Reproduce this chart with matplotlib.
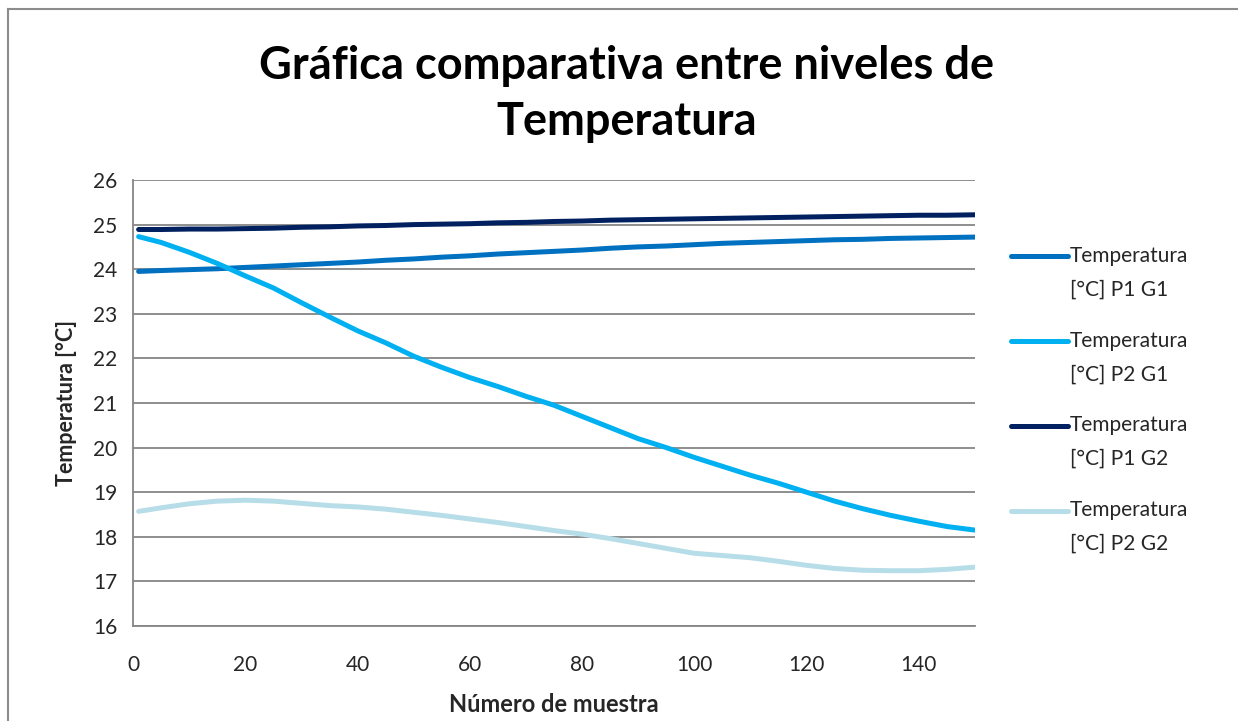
import matplotlib
matplotlib.use('Agg')
import matplotlib.pyplot as plt
from matplotlib.lines import Line2D
from matplotlib.legend_handler import HandlerLine2D

plt.rcParams['font.family'] = ['Lato', 'DejaVu Sans']

# muestras (cada 5)
x = [1, 5, 10, 15, 20, 25, 30, 35, 40, 45, 50, 55, 60, 65, 70, 75,
     80, 85, 90, 95, 100, 105, 110, 115, 120, 125, 130, 135, 140, 145, 150]

p1g1 = [23.95, 23.97, 23.99, 24.01, 24.04, 24.07, 24.10, 24.13, 24.16, 24.20,
        24.23, 24.27, 24.30, 24.34, 24.37, 24.40, 24.43, 24.47, 24.50, 24.52,
        24.55, 24.58, 24.60, 24.62, 24.64, 24.66, 24.67, 24.69, 24.70, 24.71, 24.72]
p2g1 = [24.73, 24.60, 24.38, 24.13, 23.85, 23.58, 23.25, 22.93, 22.62, 22.35,
        22.05, 21.80, 21.57, 21.37, 21.15, 20.95, 20.70, 20.45, 20.20, 20.00,
        19.78, 19.58, 19.38, 19.20, 19.00, 18.80, 18.63, 18.48, 18.35, 18.23, 18.15]
p1g2 = [24.89, 24.89, 24.90, 24.90, 24.91, 24.92, 24.94, 24.95, 24.97, 24.98,
        25.00, 25.01, 25.02, 25.04, 25.05, 25.07, 25.08, 25.10, 25.11, 25.12,
        25.13, 25.14, 25.15, 25.16, 25.17, 25.18, 25.19, 25.20, 25.21, 25.21, 25.22]
p2g2 = [18.57, 18.65, 18.74, 18.80, 18.82, 18.80, 18.75, 18.70, 18.67, 18.62,
        18.55, 18.48, 18.40, 18.32, 18.23, 18.14, 18.06, 17.96, 17.85, 17.74,
        17.63, 17.58, 17.53, 17.45, 17.36, 17.29, 17.25, 17.24, 17.24, 17.27, 17.32]

series = [p1g1, p2g1, p1g2, p2g2]
labels = ['Temperatura\n[°C] P1 G1', 'Temperatura\n[°C] P2 G1',
          'Temperatura\n[°C] P1 G2', 'Temperatura\n[°C] P2 G2']
colors = ['#0070C0', '#00B0F0', '#002060', '#B7DEE8']

txt = '#262626'
grid_c = '#868686'


class TopHandler(HandlerLine2D):
    # put the legend line next to the first text line
    def create_artists(self, legend, orig_handle, xdescent, ydescent,
                       width, height, fontsize, trans):
        return super().create_artists(legend, orig_handle, xdescent,
                                      ydescent - 2 * 0.82 * fontsize,
                                      width, height, fontsize, trans)


fig = plt.figure(figsize=(12.38, 7.21), dpi=100)
ax = fig.add_axes([133/1238, 1 - 626/721, (975-133)/1238, (626-180)/721])

for k in range(len(series)):
    ax.plot(x, series[k], color=colors[k], lw=3.6, label=labels[k],
            solid_capstyle='round')

ax.set_xlim(0, 150)
ax.set_ylim(16, 26)
ax.set_xticks(range(0, 141, 20))
ax.set_yticks(range(16, 27))
ax.grid(True, axis='y', color=grid_c, lw=1.3)
ax.set_axisbelow(True)
ax.tick_params(length=0, labelsize=15, colors=txt)
ax.tick_params(axis='y', pad=11)
ax.tick_params(axis='x', pad=21)
for s in ['top', 'right']:
    ax.spines[s].set_visible(False)
for s in ['left', 'bottom']:
    ax.spines[s].set_color(grid_c)
    ax.spines[s].set_linewidth(1.3)

ax.set_xlabel('Número de muestra', fontsize=17, fontweight='bold', color=txt,
              labelpad=13)
ax.set_ylabel('Temperatura [°C]', fontsize=15.5, fontweight='bold', color=txt,
              labelpad=12)

fig.suptitle('Gráfica comparativa entre niveles de\nTemperatura', x=0.506,
             y=0.937, fontsize=32.5, fontweight='bold', color='black',
             linespacing=1.4)

handles, labs = ax.get_legend_handles_labels()
leg = fig.legend(handles, labs, loc='upper left',
                 bbox_to_anchor=(992/1238, 1 - 227/721), frameon=False,
                 fontsize=15, labelcolor=txt, handlelength=2.75,
                 handletextpad=0.1, labelspacing=1.5,
                 handler_map={Line2D: TopHandler()})
for t in leg.get_texts():
    t.set_linespacing(1.85)

# marco exterior del grafico
fig.add_artist(Line2D([8/1238, 1], [1 - 9/721, 1 - 9/721], color='#8c8c8c',
                      lw=1.5, transform=fig.transFigure))
fig.add_artist(Line2D([8/1238, 8/1238], [0, 1 - 9/721], color='#8c8c8c',
                      lw=1.5, transform=fig.transFigure))

fig.savefig('out.png', dpi=100)
